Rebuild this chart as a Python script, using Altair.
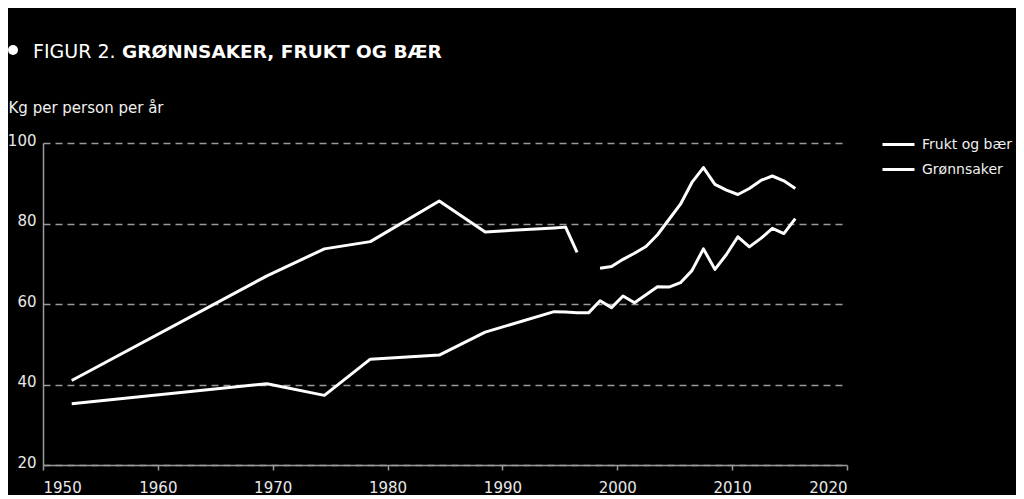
import altair as alt
import pandas as pd

# ---- data ----
frukt_years = [1952.5, 1969.5, 1974.5, 1978.5, 1984.5, 1988.5, 1994.5, 1995.5, 1996.5,
               1998.5, 1999.5, 2000.5, 2001.5, 2002.5, 2003.5, 2004.5, 2005.5, 2006.5,
               2007.5, 2008.5, 2009.5, 2010.5, 2011.5, 2012.5, 2013.5, 2014.5, 2015.5]
frukt_values = [41.0, 67.0, 73.7, 75.5, 85.6, 77.9, 78.9, 79.1, 72.8,
                68.9, 69.3, 71.1, 72.6, 74.3, 77.2, 81.0, 84.8, 90.2,
                93.9, 89.7, 88.3, 87.2, 88.7, 90.7, 91.8, 90.6, 88.7]
frukt_segment = ["a"] * 9 + ["b"] * 18

gron_years = [1952.5, 1969.5, 1974.5, 1978.5, 1984.5, 1988.5, 1994.5, 1995.5, 1996.5,
              1997.5, 1998.5, 1999.5, 2000.5, 2001.5, 2002.5, 2003.5, 2004.5, 2005.5,
              2006.5, 2007.5, 2008.5, 2009.5, 2010.5, 2011.5, 2012.5, 2013.5, 2014.5, 2015.5]
gron_values = [35.2, 40.2, 37.3, 46.3, 47.3, 53.0, 58.1, 58.0, 57.8,
               57.8, 60.8, 59.1, 62.0, 60.3, 62.3, 64.3, 64.2, 65.3,
               68.3, 73.7, 68.6, 72.3, 76.7, 74.2, 76.3, 78.8, 77.5, 81.2]

series_names = ["Frukt og bær", "Grønnsaker"]
x_ticks = [1950, 1960, 1970, 1980, 1990, 2000, 2010, 2020]
y_ticks = [20, 40, 60, 80, 100]

title_normal = "FIGUR 2."
title_bold = "GRØNNSAKER, FRUKT OG BÆR"
y_title = "Kg per person per år"

rows = []
for yr, v, s in zip(frukt_years, frukt_values, frukt_segment):
    rows.append({"year": yr, "value": v, "serie": series_names[0], "seg": "f" + s})
for yr, v in zip(gron_years, gron_values):
    rows.append({"year": yr, "value": v, "serie": series_names[1], "seg": "g"})
df = pd.DataFrame(rows)

FONT = "DejaVu Sans"
GRID = "#9a9a9a"
LABEL = "#e8e8e8"

lines = alt.Chart(df).mark_line(strokeWidth=3, strokeJoin="round").encode(
    x=alt.X("year:Q",
            scale=alt.Scale(domain=[1950, 2020], nice=False, zero=False),
            axis=alt.Axis(values=x_ticks, format="d", grid=False, title=None,
                          domainColor=GRID, domainWidth=1.5, tickColor=GRID, tickWidth=1.5,
                          tickSize=5, labelFontSize=15, labelColor=LABEL, labelFont=FONT,
                          labelPadding=10)),
    y=alt.Y("value:Q",
            scale=alt.Scale(domain=[20, 100], nice=False, zero=False),
            axis=alt.Axis(values=y_ticks, grid=True, gridDash=[7, 5], gridColor=GRID,
                          gridWidth=1.5, ticks=False, domainColor=GRID, domainWidth=1.5,
                          labelFontSize=15, labelColor=LABEL, labelFont=FONT,
                          labelPadding=7, labelOffset=-3,
                          title=y_title, titleAngle=0, titleAlign="left",
                          titleBaseline="alphabetic", titleX=-35, titleY=-31,
                          titleFont=FONT, titleFontSize=15, titleFontWeight="normal",
                          titleColor="#f0f0f0")),
    color=alt.Color("serie:N",
                    scale=alt.Scale(domain=series_names, range=["#ffffff", "#ffffff"]),
                    legend=alt.Legend(title=None, orient="none", legendX=838, legendY=-16,
                                      symbolType="stroke", symbolStrokeWidth=3,
                                      symbolSize=1024, labelFontSize=14, labelFont=FONT,
                                      labelColor="#f0f0f0", labelOffset=6, rowPadding=-5)),
    detail="seg:N",
)

bullet = alt.Chart(pd.DataFrame({"k": [1]})).mark_point(
    filled=True, color="white", size=100, shape="circle", opacity=1
).encode(x=alt.value(-30), y=alt.value(-93))

t1 = alt.Chart(pd.DataFrame({"t": [title_normal]})).mark_text(
    align="left", baseline="alphabetic", font=FONT, fontSize=19, color="white"
).encode(text="t:N", x=alt.value(-10), y=alt.value(-85))

t2 = alt.Chart(pd.DataFrame({"t": [title_bold]})).mark_text(
    align="left", baseline="alphabetic", font=FONT, fontSize=18.5, fontWeight="bold",
    color="white"
).encode(text="t:N", x=alt.value(79), y=alt.value(-85))

chart = alt.layer(lines, bullet, t1, t2).properties(
    width=804, height=322,
    padding={"left": 35, "top": 135, "right": 169, "bottom": 30},
    autosize=alt.AutoSizeParams(type="none"),
    background="black",
).configure_view(stroke=None)

chart.save("out.html", embed_options={"renderer": "svg", "actions": False})
